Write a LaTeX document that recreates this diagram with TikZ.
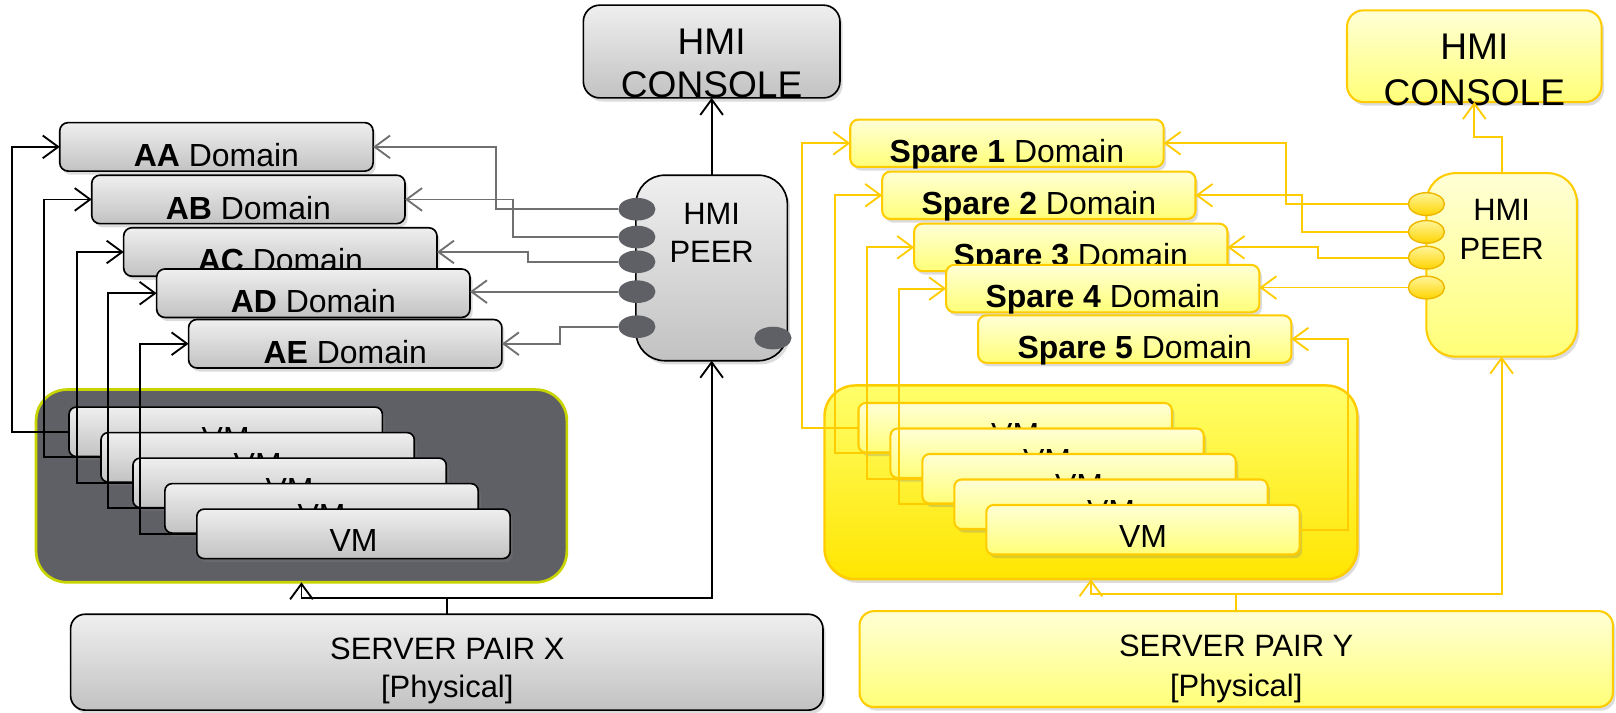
\documentclass[tikz,border=0pt]{standalone}
\usepackage{fontspec}
\setmainfont{Liberation Sans}
\usetikzlibrary{arrows.meta,shadows,shapes.geometric}

\definecolor{gtop}{HTML}{EFEFEF}
\definecolor{gbot}{HTML}{C2C2C2}
\definecolor{darkbox}{HTML}{5F6066}
\definecolor{limeedge}{HTML}{C8D400}
\definecolor{grayline}{HTML}{707070}
\definecolor{ygold}{HTML}{FFCC00}
\definecolor{ytop}{HTML}{FFFFD6}
\definecolor{ybot}{HTML}{FFFF78}
\definecolor{ctop}{HTML}{FFFF6A}
\definecolor{cbot}{HTML}{FFE500}
\definecolor{etop}{HTML}{FFF59A}
\definecolor{ebot}{HTML}{FFD400}
\definecolor{eedge}{HTML}{EEB800}

\tikzset{
  every node/.style={inner sep=0pt,outer sep=0pt},
  softshadow/.style={drop shadow={shadow xshift=2.5pt,shadow yshift=-3.5pt,opacity=0.28}},
  gbox/.style={draw=black,line width=1.6pt,top color=gtop,bottom color=gbot,softshadow},
  ybox/.style={draw=ygold,line width=2pt,top color=ytop,bottom color=ybot,softshadow},
  dsize/.style={minimum width=304pt,minimum height=47pt,rounded corners=8pt,anchor=north west},
  vsize/.style={minimum width=304pt,minimum height=48pt,rounded corners=7pt,anchor=north west},
  lbl/.style={font=\fontsize{31}{36}\selectfont,anchor=base},
  peertxt/.style={font=\fontsize{30}{34}\selectfont,anchor=base},
  bigtxt/.style={font=\fontsize{36}{40}\selectfont,anchor=base},
  srvtxt/.style={font=\fontsize{30}{34}\selectfont,anchor=base},
  tip/.style={-{Straight Barb[length=15pt,width=22pt]}},
  blk/.style={draw=black,line width=1.8pt,tip},
  gry/.style={draw=grayline,line width=1.8pt,tip},
  yel/.style={draw=ygold,line width=1.8pt,tip},
  lell/.style={ellipse,fill=darkbox,minimum width=36pt,minimum height=22pt},
  yell/.style={ellipse,draw=eedge,line width=1.4pt,top color=etop,bottom color=ebot,minimum width=35pt,minimum height=22pt},
}

\begin{document}
\begin{tikzpicture}[x=1pt,y=-1pt]
\useasboundingbox (0,0) rectangle (1568,691);

% ---------------- left system (server pair X) ----------------
\node[gbox,minimum width=249pt,minimum height=90pt,rounded corners=16pt,anchor=north west] (lcons) at (566,5) {};
\node[bigtxt] at (690.5,53) {HMI};
\node[bigtxt] at (690.5,95) {CONSOLE};

\node[gbox,dsize] (aa) at (58,119) {};
\node[lbl] at ([yshift=4.5pt]aa.south) {\textbf{AA} Domain};
\node[gbox,dsize] (ab) at (89,170) {};
\node[lbl] at ([yshift=4.5pt]ab.south) {\textbf{AB} Domain};
\node[gbox,dsize] (ac) at (120,221) {};
\node[lbl] at ([yshift=4.5pt]ac.south) {\textbf{AC} Domain};
\node[gbox,dsize] (ad) at (152,261) {};
\node[lbl] at ([yshift=4.5pt]ad.south) {\textbf{AD} Domain};
\node[gbox,dsize] (ae) at (183,310) {};
\node[lbl] at ([yshift=4.5pt]ae.south) {\textbf{AE} Domain};

\node[gbox,minimum width=147pt,minimum height=180pt,rounded corners=28pt,anchor=north west] (lpeer) at (617,170) {};
\node[peertxt] at (690.5,218) {HMI};
\node[peertxt] at (690.5,255) {PEER};
\node[lell] (le1) at (618,203) {};
\node[lell] (le2) at (618,230) {};
\node[lell] (le3) at (618,254) {};
\node[lell] (le4) at (618,283) {};
\node[lell] (le5) at (618,317) {};
\node[lell] (le6) at (750,328) {};

\draw[gry] (le1.west) -- ++(-119,0) |- (aa.east);
\draw[gry] (le2.west) -- ++(-102,0) |- (ab.east);
\draw[gry] (le3.west) -- ++(-88,0) |- (ac.east);
\draw[gry] (le4.west) -- (le4.west -| ad.east);
\draw[gry] (le5.west) -- ++(-57,0) |- (ae.east);
\draw[blk] (lpeer.north) -- (lcons.south);

\node[draw=limeedge,line width=2.6pt,fill=darkbox,minimum width=515pt,minimum height=187pt,rounded corners=30pt,anchor=north west] (ldark) at (35,378) {};
\node[gbox,vsize] (lvm1) at (67,395) {};
\node[lbl] at ([yshift=6.5pt]lvm1.south) {VM};
\node[gbox,vsize] (lvm2) at (98,419.75) {};
\node[lbl] at ([yshift=6.5pt]lvm2.south) {VM};
\node[gbox,vsize] (lvm3) at (129,444.5) {};
\node[lbl] at ([yshift=6.5pt]lvm3.south) {VM};
\node[gbox,vsize] (lvm4) at (160,469.25) {};
\node[lbl] at ([yshift=6.5pt]lvm4.south) {VM};
\node[gbox,vsize] (lvm5) at (191,494) {};
\node[lbl] at ([yshift=6.5pt]lvm5.south) {VM};

\draw[blk] (lvm1.west) -- ++(-55,0) |- (aa.west);
\draw[blk] (lvm2.west) -- ++(-55,0) |- (ab.west);
\draw[blk] (lvm3.west) -- ++(-54,0) |- (ac.west);
\draw[blk] (lvm4.west) -- ++(-55,0) |- (ad.west);
\draw[blk] (lvm5.west) -- ++(-55,0) |- (ae.west);

\node[gbox,minimum width=730pt,minimum height=93pt,rounded corners=14pt,anchor=north west] (srvx) at (68.5,596) {};
\node[srvtxt] at (434,640) {SERVER PAIR X};
\node[srvtxt] at (434,677) {[Physical]};
\draw[blk] (srvx.north) -- ++(0,-16) -| (ldark.south);
\draw[blk] (srvx.north) -- ++(0,-16) -| (lpeer.south);

% ---------------- right system (server pair Y) ----------------
\node[ybox,minimum width=247pt,minimum height=89pt,rounded corners=16pt,anchor=north west] (rcons) at (1307,10) {};
\node[bigtxt] at (1430.5,58) {HMI};
\node[bigtxt] at (1430.5,102) {CONSOLE};

\node[ybox,dsize,minimum height=46pt] (sp1) at (825,116) {};
\node[lbl] at ([yshift=4.5pt]sp1.south) {\textbf{Spare 1} Domain};
\node[ybox,dsize,minimum height=46pt] (sp2) at (856,166.5) {};
\node[lbl] at ([yshift=4.5pt]sp2.south) {\textbf{Spare 2} Domain};
\node[ybox,dsize,minimum height=46pt] (sp3) at (887,217) {};
\node[lbl] at ([yshift=4.5pt]sp3.south) {\textbf{Spare 3} Domain};
\node[ybox,dsize,minimum height=46pt] (sp4) at (918,257) {};
\node[lbl] at ([yshift=4.5pt]sp4.south) {\textbf{Spare 4} Domain};
\node[ybox,dsize,minimum height=46pt] (sp5) at (949,306) {};
\node[lbl] at ([yshift=4.5pt]sp5.south) {\textbf{Spare 5} Domain};

\node[ybox,minimum width=146pt,minimum height=178pt,rounded corners=28pt,anchor=north west] (rpeer) at (1384,168) {};
\node[peertxt] at (1457,214) {HMI};
\node[peertxt] at (1457,252) {PEER};
\node[yell] (re1) at (1384,198) {};
\node[yell] (re2) at (1384,225) {};
\node[yell] (re3) at (1384,250) {};
\node[yell] (re4) at (1384,279) {};

\draw[yel] (re1.west) -- ++(-118.5,0) |- (sp1.east);
\draw[yel] (re2.west) -- ++(-103.5,0) |- (sp2.east);
\draw[yel] (re3.west) -- ++(-87.5,0) |- (sp3.east);
\draw[yel] (re4.west) -- (re4.west -| sp4.east);
\draw[yel] (rpeer.north) -- ++(0,-35) -| (rcons.south);

\node[draw=ygold,line width=2.4pt,top color=ctop,bottom color=cbot,softshadow,minimum width=517pt,minimum height=188pt,rounded corners=30pt,anchor=north west] (rdark) at (800,374) {};
\node[ybox,vsize] (rvm1) at (833,391) {};
\node[lbl] at ([yshift=6.5pt]rvm1.south) {VM};
\node[ybox,vsize] (rvm2) at (864,415.75) {};
\node[lbl] at ([yshift=6.5pt]rvm2.south) {VM};
\node[ybox,vsize] (rvm3) at (895,440.5) {};
\node[lbl] at ([yshift=6.5pt]rvm3.south) {VM};
\node[ybox,vsize] (rvm4) at (926,465.25) {};
\node[lbl] at ([yshift=6.5pt]rvm4.south) {VM};
\node[ybox,vsize] (rvm5) at (957,490) {};
\node[lbl] at ([yshift=6.5pt]rvm5.south) {VM};

\draw[yel] (rvm1.west) -- ++(-55,0) |- (sp1.west);
\draw[yel] (rvm2.west) -- ++(-54,0) |- (sp2.west);
\draw[yel] (rvm3.west) -- ++(-54,0) |- (sp3.west);
\draw[yel] (rvm4.west) -- ++(-54,0) |- (sp4.west);
\draw[yel] (rvm5.east) -- ++(47,0) |- (sp5.east);

\node[ybox,minimum width=731pt,minimum height=93pt,rounded corners=14pt,anchor=north west] (srvy) at (834,593) {};
\node[srvtxt] at (1199.5,637) {SERVER PAIR Y};
\node[srvtxt] at (1199.5,676) {[Physical]};
\draw[yel] (srvy.north) -- ++(0,-17) -| (rdark.south);
\draw[yel] (srvy.north) -- ++(0,-17) -| (rpeer.south);
\end{tikzpicture}
\end{document}
